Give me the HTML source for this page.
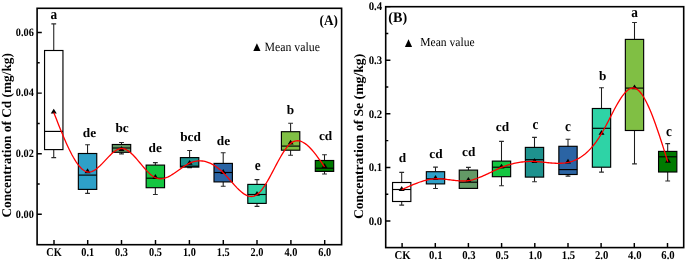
<!DOCTYPE html>
<html><head><meta charset="utf-8"><style>
html,body{margin:0;padding:0;background:#fff;width:685px;height:263px;overflow:hidden}
svg{display:block}
text{font-family:"Liberation Serif", serif;fill:#000;text-rendering:geometricPrecision}
.w{fill:none;stroke:#1c1c1c;stroke-width:1.05}
.cp{fill:none;stroke:#2a2a2a;stroke-width:1.1}
.bx{stroke:#000;stroke-width:1.15}
.md{fill:none;stroke:#000;stroke-width:1.15}
.cv{fill:none;stroke:#f00;stroke-width:1.3}
.fr{fill:none;stroke:#000;stroke-width:1.6}
.tk{fill:none;stroke:#000;stroke-width:1.45}
.yl{font-size:10.3px;font-weight:bold;text-anchor:end}
.xl{font-size:10.3px;font-weight:bold;text-anchor:middle}
.lt{font-size:13.3px;font-weight:bold;text-anchor:middle}
.tt{font-weight:bold}
.pl{font-size:13.2px;font-weight:bold}
.lg{font-size:11.6px}
</style></head><body>
<div style="will-change:transform"><svg width="685" height="263" viewBox="0 0 685 263">
<rect width="685" height="263" fill="#fff"/>
<path d="M53.75,23.90V50.50M53.75,149.60V157.60" class="w"/>
<path d="M51.35,23.90H56.15M51.35,157.60H56.15" class="cp"/>
<rect x="44.55" y="50.50" width="18.40" height="99.10" fill="#fff" class="bx"/>
<path d="M44.55,131.40H62.95" class="md"/>
<path d="M87.55,144.80V153.50M87.55,189.40V193.40" class="w"/>
<path d="M85.15,144.80H89.95M85.15,193.40H89.95" class="cp"/>
<rect x="78.35" y="153.50" width="18.40" height="35.90" fill="#2EA0C8" class="bx"/>
<path d="M78.35,175.10H96.75" class="md"/>
<path d="M121.50,142.50V144.50M121.50,152.30V153.90" class="w"/>
<path d="M119.10,142.50H123.90M119.10,153.90H123.90" class="cp"/>
<rect x="112.30" y="144.50" width="18.40" height="7.80" fill="#639966" class="bx"/>
<path d="M112.30,148.00H130.70" class="md"/>
<path d="M155.35,162.60V165.10M155.35,187.70V194.50" class="w"/>
<path d="M152.95,162.60H157.75M152.95,194.50H157.75" class="cp"/>
<rect x="146.15" y="165.10" width="18.40" height="22.60" fill="#14C640" class="bx"/>
<path d="M146.15,178.20H164.55" class="md"/>
<path d="M189.60,150.50V157.60M189.60,167.10V167.60" class="w"/>
<path d="M187.20,150.50H192.00M187.20,167.60H192.00" class="cp"/>
<rect x="180.40" y="157.60" width="18.40" height="9.50" fill="#1E928E" class="bx"/>
<path d="M180.40,166.20H198.80" class="md"/>
<path d="M223.20,152.70V163.40M223.20,181.90V186.20" class="w"/>
<path d="M220.80,152.70H225.60M220.80,186.20H225.60" class="cp"/>
<rect x="214.00" y="163.40" width="18.40" height="18.50" fill="#2B64A4" class="bx"/>
<path d="M214.00,172.50H232.40" class="md"/>
<path d="M257.00,179.60V184.40M257.00,203.40V206.40" class="w"/>
<path d="M254.60,179.60H259.40M254.60,206.40H259.40" class="cp"/>
<rect x="247.80" y="184.40" width="18.40" height="19.00" fill="#2ED3A6" class="bx"/>
<path d="M247.80,194.50H266.20" class="md"/>
<path d="M290.60,123.30V131.70M290.60,150.20V155.30" class="w"/>
<path d="M288.20,123.30H293.00M288.20,155.30H293.00" class="cp"/>
<rect x="281.40" y="131.70" width="18.40" height="18.50" fill="#80BF44" class="bx"/>
<path d="M281.40,146.10H299.80" class="md"/>
<path d="M324.50,154.80V160.50M324.50,171.40V174.00" class="w"/>
<path d="M322.10,154.80H326.90M322.10,174.00H326.90" class="cp"/>
<rect x="315.30" y="160.50" width="18.40" height="10.90" fill="#007A00" class="bx"/>
<path d="M315.30,168.20H333.70" class="md"/>
<g fill="#000"><path d="M53.75,108.70 L56.75,113.60 L50.75,113.60Z"/><path d="M87.55,168.30 L90.55,173.20 L84.55,173.20Z"/><path d="M121.50,146.10 L124.50,151.00 L118.50,151.00Z"/><path d="M155.35,174.00 L158.35,178.90 L152.35,178.90Z"/><path d="M189.60,159.90 L192.60,164.80 L186.60,164.80Z"/><path d="M223.20,169.00 L226.20,173.90 L220.20,173.90Z"/><path d="M257.00,190.90 L260.00,195.80 L254.00,195.80Z"/><path d="M290.60,139.70 L293.60,144.60 L287.60,144.60Z"/><path d="M324.50,163.10 L327.50,168.00 L321.50,168.00Z"/></g>
<path d="M53.75,112.40 L55.16,116.00 L56.57,119.59 L57.98,123.16 L59.38,126.69 L60.79,130.17 L62.20,133.60 L63.61,136.95 L65.02,140.23 L66.42,143.41 L67.83,146.48 L69.24,149.44 L70.65,152.28 L72.06,154.97 L73.47,157.51 L74.88,159.88 L76.28,162.08 L77.69,164.10 L79.10,165.92 L80.51,167.52 L81.92,168.91 L83.33,170.06 L84.73,170.97 L86.14,171.62 L87.55,172.00 L88.96,172.11 L90.38,171.96 L91.79,171.57 L93.21,170.96 L94.62,170.17 L96.04,169.20 L97.45,168.09 L98.87,166.85 L100.28,165.51 L101.70,164.09 L103.11,162.62 L104.53,161.11 L105.94,159.58 L107.35,158.07 L108.77,156.59 L110.18,155.17 L111.60,153.83 L113.01,152.58 L114.43,151.46 L115.84,150.49 L117.26,149.68 L118.67,149.07 L120.09,148.67 L121.50,148.50 L122.91,148.59 L124.32,148.91 L125.73,149.45 L127.14,150.19 L128.55,151.12 L129.96,152.20 L131.37,153.43 L132.78,154.78 L134.19,156.24 L135.60,157.78 L137.01,159.39 L138.43,161.05 L139.84,162.73 L141.25,164.42 L142.66,166.11 L144.07,167.77 L145.48,169.37 L146.89,170.92 L148.30,172.37 L149.71,173.72 L151.12,174.95 L152.53,176.04 L153.94,176.96 L155.35,177.70 L156.78,178.25 L158.20,178.61 L159.63,178.79 L161.06,178.81 L162.49,178.66 L163.91,178.38 L165.34,177.97 L166.77,177.44 L168.19,176.80 L169.62,176.07 L171.05,175.27 L172.47,174.39 L173.90,173.46 L175.33,172.49 L176.76,171.49 L178.18,170.47 L179.61,169.45 L181.04,168.43 L182.46,167.44 L183.89,166.47 L185.32,165.56 L186.75,164.70 L188.17,163.91 L189.60,163.20 L191.00,162.60 L192.40,162.09 L193.80,161.66 L195.20,161.33 L196.60,161.09 L198.00,160.94 L199.40,160.87 L200.80,160.90 L202.20,161.01 L203.60,161.20 L205.00,161.48 L206.40,161.85 L207.80,162.30 L209.20,162.84 L210.60,163.46 L212.00,164.16 L213.40,164.95 L214.80,165.81 L216.20,166.76 L217.60,167.79 L219.00,168.90 L220.40,170.09 L221.80,171.35 L223.20,172.70 L224.61,174.13 L226.02,175.62 L227.42,177.16 L228.83,178.74 L230.24,180.34 L231.65,181.94 L233.06,183.53 L234.47,185.09 L235.88,186.62 L237.28,188.09 L238.69,189.49 L240.10,190.80 L241.51,192.02 L242.92,193.12 L244.32,194.09 L245.73,194.92 L247.14,195.59 L248.55,196.09 L249.96,196.40 L251.37,196.50 L252.78,196.39 L254.18,196.05 L255.59,195.46 L257.00,194.60 L258.40,193.48 L259.80,192.11 L261.20,190.51 L262.60,188.70 L264.00,186.71 L265.40,184.56 L266.80,182.26 L268.20,179.85 L269.60,177.34 L271.00,174.76 L272.40,172.13 L273.80,169.47 L275.20,166.80 L276.60,164.15 L278.00,161.53 L279.40,158.98 L280.80,156.51 L282.20,154.14 L283.60,151.90 L285.00,149.81 L286.40,147.90 L287.80,146.17 L289.20,144.67 L290.60,143.40 L292.01,142.38 L293.43,141.61 L294.84,141.09 L296.25,140.80 L297.66,140.74 L299.08,140.88 L300.49,141.22 L301.90,141.75 L303.31,142.46 L304.73,143.33 L306.14,144.36 L307.55,145.53 L308.96,146.84 L310.38,148.27 L311.79,149.80 L313.20,151.44 L314.61,153.17 L316.02,154.97 L317.44,156.84 L318.85,158.77 L320.26,160.74 L321.68,162.74 L323.09,164.76 L324.50,166.80" class="cv"/>
<text transform="translate(53.93,18.72) scale(1.0,1.11)" class="lt">a</text>
<text transform="translate(89.40,136.50) scale(1.0,0.965)" class="lt">de</text>
<text transform="translate(122.09,132.28) scale(1.0,0.965)" class="lt">bc</text>
<text transform="translate(155.27,152.30) scale(1.0,0.965)" class="lt">de</text>
<text transform="translate(190.51,141.17) scale(1.0,0.965)" class="lt">bcd</text>
<text transform="translate(223.49,144.50) scale(1.0,0.965)" class="lt">de</text>
<text transform="translate(257.78,170.34) scale(1.0,1.11)" class="lt">e</text>
<text transform="translate(290.56,113.50) scale(1.0,0.965)" class="lt">b</text>
<text transform="translate(325.61,139.91) scale(1.0,0.965)" class="lt">cd</text>
<rect x="37.1" y="8.3" width="304.50" height="236.40" class="fr"/>
<text transform="translate(33.90,217.65) scale(1.0,1.09)" class="yl">0.00</text>
<text transform="translate(33.90,157.05) scale(1.0,1.09)" class="yl">0.02</text>
<text transform="translate(33.90,96.45) scale(1.0,1.09)" class="yl">0.04</text>
<text transform="translate(33.90,35.75) scale(1.0,1.09)" class="yl">0.06</text>
<text transform="translate(54.00,255.60) scale(1.0,1.16)" class="xl">CK</text>
<text transform="translate(87.70,255.60) scale(1.0,1.16)" class="xl">0.1</text>
<text transform="translate(121.50,255.60) scale(1.0,1.16)" class="xl">0.3</text>
<text transform="translate(155.50,255.60) scale(1.0,1.16)" class="xl">0.5</text>
<text transform="translate(189.40,255.60) scale(1.0,1.16)" class="xl">1.0</text>
<text transform="translate(223.30,255.60) scale(1.0,1.16)" class="xl">1.5</text>
<text transform="translate(257.00,255.60) scale(1.0,1.16)" class="xl">2.0</text>
<text transform="translate(290.90,255.60) scale(1.0,1.16)" class="xl">4.0</text>
<text transform="translate(324.70,255.60) scale(1.0,1.16)" class="xl">6.0</text>
<path d="M37.10,214.30H41.80M37.10,184.00H39.70M37.10,153.70H41.80M37.10,123.40H39.70M37.10,93.10H41.80M37.10,62.75H39.70M37.10,32.40H41.80M54.00,244.70V240.00M87.70,244.70V240.00M121.50,244.70V240.00M155.50,244.70V240.00M189.40,244.70V240.00M223.30,244.70V240.00M257.00,244.70V240.00M290.90,244.70V240.00M324.70,244.70V240.00" class="tk"/>
<text transform="translate(10.6,217.6) rotate(-90) scale(1.001,1)" class="tt" style="font-size:13.3px">Concentration of Cd (mg/kg)</text>
<text transform="translate(337.90,25.37) scale(1.0,1.1)" class="pl" text-anchor="end">(A)</text>
<path d="M256.90,43.20 L260.50,51.00 L253.30,51.00Z"/>
<text transform="translate(264.45,50.70) scale(1.019,1.1)" class="lg">Mean value</text>
<path d="M401.70,172.40V182.50M401.70,201.50V205.10" class="w"/>
<path d="M399.30,172.40H404.10M399.30,205.10H404.10" class="cp"/>
<rect x="392.55" y="182.50" width="18.30" height="19.00" fill="#fff" class="bx"/>
<path d="M392.55,189.50H410.85" class="md"/>
<path d="M435.50,167.10V171.70M435.50,183.90V188.50" class="w"/>
<path d="M433.10,167.10H437.90M433.10,188.50H437.90" class="cp"/>
<rect x="426.35" y="171.70" width="18.30" height="12.20" fill="#2EA0C8" class="bx"/>
<path d="M426.35,178.80H444.65" class="md"/>
<path d="M468.40,167.40V170.10M468.40,188.40V188.40" class="w"/>
<path d="M466.00,167.40H470.80M466.00,188.40H470.80" class="cp"/>
<rect x="459.25" y="170.10" width="18.30" height="18.30" fill="#639966" class="bx"/>
<path d="M459.25,182.20H477.55" class="md"/>
<path d="M501.50,141.40V161.10M501.50,176.70V185.80" class="w"/>
<path d="M499.10,141.40H503.90M499.10,185.80H503.90" class="cp"/>
<rect x="492.35" y="161.10" width="18.30" height="15.60" fill="#14C640" class="bx"/>
<path d="M492.35,167.20H510.65" class="md"/>
<path d="M534.50,137.40V147.40M534.50,177.10V181.80" class="w"/>
<path d="M532.10,137.40H536.90M532.10,181.80H536.90" class="cp"/>
<rect x="525.35" y="147.40" width="18.30" height="29.70" fill="#1E928E" class="bx"/>
<path d="M525.35,159.70H543.65" class="md"/>
<path d="M568.00,139.30V146.30M568.00,174.50V176.10" class="w"/>
<path d="M565.60,139.30H570.40M565.60,176.10H570.40" class="cp"/>
<rect x="558.85" y="146.30" width="18.30" height="28.20" fill="#2B64A4" class="bx"/>
<path d="M558.85,169.60H577.15" class="md"/>
<path d="M601.50,87.80V108.50M601.50,167.20V172.10" class="w"/>
<path d="M599.10,87.80H603.90M599.10,172.10H603.90" class="cp"/>
<rect x="592.35" y="108.50" width="18.30" height="58.70" fill="#2ED3A6" class="bx"/>
<path d="M592.35,128.30H610.65" class="md"/>
<path d="M634.50,22.50V39.40M634.50,130.50V163.90" class="w"/>
<path d="M632.10,22.50H636.90M632.10,163.90H636.90" class="cp"/>
<rect x="625.35" y="39.40" width="18.30" height="91.10" fill="#80BF44" class="bx"/>
<path d="M625.35,88.10H643.65" class="md"/>
<path d="M667.70,143.60V151.40M667.70,172.00V181.00" class="w"/>
<path d="M665.30,143.60H670.10M665.30,181.00H670.10" class="cp"/>
<rect x="658.55" y="151.40" width="18.30" height="20.60" fill="#007A00" class="bx"/>
<path d="M658.55,156.80H676.85" class="md"/>
<g fill="#000"><path d="M401.70,186.00 L404.70,190.90 L398.70,190.90Z"/><path d="M435.50,175.10 L438.50,180.00 L432.50,180.00Z"/><path d="M468.40,176.90 L471.40,181.80 L465.40,181.80Z"/><path d="M501.50,163.70 L504.50,168.60 L498.50,168.60Z"/><path d="M534.50,158.10 L537.50,163.00 L531.50,163.00Z"/><path d="M568.00,158.70 L571.00,163.60 L565.00,163.60Z"/><path d="M601.50,129.90 L604.50,134.80 L598.50,134.80Z"/><path d="M634.50,84.40 L637.50,89.30 L631.50,89.30Z"/><path d="M668.00,157.90 L671.00,162.80 L665.00,162.80Z"/></g>
<path d="M401.70,189.70 L403.11,189.05 L404.52,188.41 L405.93,187.76 L407.33,187.13 L408.74,186.50 L410.15,185.88 L411.56,185.28 L412.97,184.69 L414.38,184.11 L415.78,183.56 L417.19,183.02 L418.60,182.50 L420.01,182.01 L421.42,181.55 L422.82,181.11 L424.23,180.71 L425.64,180.34 L427.05,180.00 L428.46,179.70 L429.87,179.43 L431.27,179.21 L432.68,179.03 L434.09,178.89 L435.50,178.80 L436.87,178.76 L438.24,178.76 L439.61,178.79 L440.98,178.86 L442.35,178.96 L443.73,179.09 L445.10,179.23 L446.47,179.39 L447.84,179.56 L449.21,179.74 L450.58,179.92 L451.95,180.10 L453.32,180.27 L454.69,180.44 L456.06,180.59 L457.43,180.72 L458.80,180.83 L460.17,180.91 L461.55,180.96 L462.92,180.98 L464.29,180.95 L465.66,180.89 L467.03,180.77 L468.40,180.60 L469.78,180.37 L471.16,180.09 L472.54,179.76 L473.92,179.38 L475.30,178.96 L476.67,178.50 L478.05,178.00 L479.43,177.47 L480.81,176.91 L482.19,176.32 L483.57,175.72 L484.95,175.09 L486.33,174.45 L487.71,173.79 L489.09,173.13 L490.47,172.47 L491.85,171.80 L493.23,171.13 L494.60,170.48 L495.98,169.83 L497.36,169.19 L498.74,168.57 L500.12,167.97 L501.50,167.40 L502.88,166.85 L504.25,166.33 L505.62,165.84 L507.00,165.38 L508.38,164.94 L509.75,164.53 L511.12,164.14 L512.50,163.78 L513.88,163.45 L515.25,163.14 L516.62,162.86 L518.00,162.61 L519.38,162.38 L520.75,162.17 L522.12,161.99 L523.50,161.84 L524.88,161.71 L526.25,161.61 L527.62,161.53 L529.00,161.47 L530.38,161.44 L531.75,161.44 L533.12,161.46 L534.50,161.50 L535.90,161.57 L537.29,161.66 L538.69,161.76 L540.08,161.89 L541.48,162.02 L542.88,162.16 L544.27,162.31 L545.67,162.46 L547.06,162.60 L548.46,162.75 L549.85,162.88 L551.25,163.00 L552.65,163.11 L554.04,163.20 L555.44,163.27 L556.83,163.32 L558.23,163.33 L559.62,163.32 L561.02,163.27 L562.42,163.19 L563.81,163.06 L565.21,162.89 L566.60,162.67 L568.00,162.40 L569.40,162.08 L570.79,161.70 L572.19,161.26 L573.58,160.76 L574.98,160.19 L576.38,159.56 L577.77,158.85 L579.17,158.08 L580.56,157.23 L581.96,156.30 L583.35,155.29 L584.75,154.19 L586.15,153.01 L587.54,151.75 L588.94,150.39 L590.33,148.93 L591.73,147.38 L593.12,145.73 L594.52,143.98 L595.92,142.13 L597.31,140.16 L598.71,138.09 L600.10,135.90 L601.50,133.60 L602.88,131.22 L604.25,128.75 L605.62,126.19 L607.00,123.58 L608.38,120.93 L609.75,118.26 L611.12,115.59 L612.50,112.94 L613.88,110.32 L615.25,107.75 L616.62,105.26 L618.00,102.86 L619.38,100.58 L620.75,98.42 L622.12,96.41 L623.50,94.57 L624.88,92.91 L626.25,91.46 L627.62,90.23 L629.00,89.24 L630.38,88.52 L631.75,88.07 L633.12,87.93 L634.50,88.10 L635.88,88.61 L637.27,89.44 L638.65,90.58 L640.03,92.03 L641.42,93.75 L642.80,95.75 L644.18,98.00 L645.57,100.50 L646.95,103.21 L648.33,106.15 L649.72,109.28 L651.10,112.59 L652.48,116.08 L653.87,119.72 L655.25,123.50 L656.63,127.42 L658.02,131.44 L659.40,135.56 L660.78,139.77 L662.17,144.05 L663.55,148.39 L664.93,152.77 L666.32,157.18 L667.70,161.60" class="cv"/>
<text transform="translate(402.42,161.87) scale(1.0,0.965)" class="lt">d</text>
<text transform="translate(436.02,158.23) scale(1.0,0.965)" class="lt">cd</text>
<text transform="translate(468.74,155.59) scale(1.0,0.965)" class="lt">cd</text>
<text transform="translate(502.52,131.08) scale(1.0,0.965)" class="lt">cd</text>
<text transform="translate(535.33,128.72) scale(1.0,1.11)" class="lt">c</text>
<text transform="translate(568.03,131.28) scale(1.0,1.11)" class="lt">c</text>
<text transform="translate(602.68,80.35) scale(1.0,0.965)" class="lt">b</text>
<text transform="translate(634.48,17.05) scale(1.0,1.11)" class="lt">a</text>
<text transform="translate(668.89,136.48) scale(1.0,1.11)" class="lt">c</text>
<rect x="385.7" y="6.7" width="298.00" height="240.90" class="fr"/>
<text transform="translate(382.20,224.75) scale(1.05,1.13)" class="yl">0.0</text>
<text transform="translate(382.20,171.15) scale(1.05,1.13)" class="yl">0.1</text>
<text transform="translate(382.20,117.55) scale(1.05,1.13)" class="yl">0.2</text>
<text transform="translate(382.20,63.95) scale(1.05,1.13)" class="yl">0.3</text>
<text transform="translate(382.20,10.35) scale(1.05,1.13)" class="yl">0.4</text>
<text transform="translate(402.60,259.10) scale(1.04,1.16)" class="xl">CK</text>
<text transform="translate(435.80,259.10) scale(1.04,1.16)" class="xl">0.1</text>
<text transform="translate(468.90,259.10) scale(1.04,1.16)" class="xl">0.3</text>
<text transform="translate(502.10,259.10) scale(1.04,1.16)" class="xl">0.5</text>
<text transform="translate(535.30,259.10) scale(1.04,1.16)" class="xl">1.0</text>
<text transform="translate(568.50,259.10) scale(1.04,1.16)" class="xl">1.5</text>
<text transform="translate(601.60,259.10) scale(1.04,1.16)" class="xl">2.0</text>
<text transform="translate(634.80,259.10) scale(1.04,1.16)" class="xl">4.0</text>
<text transform="translate(668.00,259.10) scale(1.04,1.16)" class="xl">6.0</text>
<path d="M385.70,221.00H390.40M385.70,194.20H388.30M385.70,167.40H390.40M385.70,140.60H388.30M385.70,113.80H390.40M385.70,87.00H388.30M385.70,60.20H390.40M385.70,33.40H388.30M385.70,6.60H390.40M402.10,247.60V242.90M435.30,247.60V242.90M468.40,247.60V242.90M501.60,247.60V242.90M534.80,247.60V242.90M568.00,247.60V242.90M601.10,247.60V242.90M634.30,247.60V242.90M667.50,247.60V242.90" class="tk"/>
<text transform="translate(362.9,219.1) rotate(-90) scale(1.029,1)" class="tt" style="font-size:13.3px">Concentration of Se (mg/kg)</text>
<text transform="translate(388.35,21.75) scale(1.073,1.1)" class="pl" text-anchor="start">(B)</text>
<path d="M408.50,39.20 L412.10,47.00 L404.90,47.00Z"/>
<text transform="translate(420.28,45.90) scale(0.998,1.05)" class="lg">Mean value</text>
</svg></div>
</body></html>
